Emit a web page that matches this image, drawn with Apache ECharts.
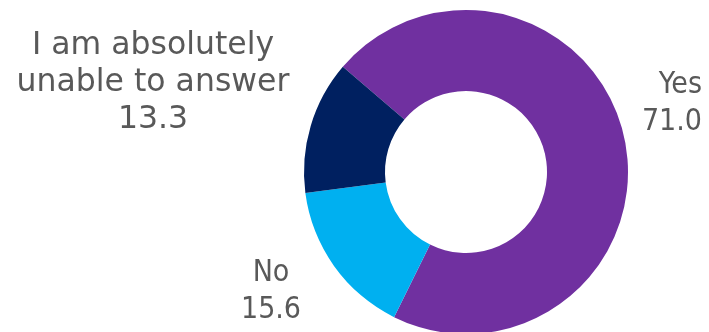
<!DOCTYPE html>
<html><head><meta charset="utf-8">
<script src="https://cdn.jsdelivr.net/npm/echarts@6/dist/echarts.min.js"></script>
<style>html,body{margin:0;padding:0;background:#fff}#c{width:709px;height:332px}</style>
</head><body><div id="c"></div>
<script>
const categories = ["Yes", "No", "I am absolutely\nunable to answer"];
const values = [71.0, 15.6, 13.3];
const colors = ["#7030A0", "#00B0F0", "#002060"];

const labelPos = [
  {x: 702, y: 104, align: 'right'},
  {x: 271, y: 292, align: 'center'},
  {x: 153, y: 83, align: 'center'}
];
const labelFonts = [
  {fontFamily: 'DejaVu Sans Condensed', fontSize: 30, lineHeight: 37},
  {fontFamily: 'DejaVu Sans Condensed', fontSize: 30, lineHeight: 37},
  {fontFamily: 'DejaVu Sans', fontSize: 31.5, lineHeight: 37}
];

const chart = echarts.init(document.getElementById('c'), null, {renderer: 'canvas'});
chart.setOption({
  animation: false,
  series: [{
    type: 'pie',
    center: [466, 172],
    radius: [81, 162],
    startAngle: 139.5,
    clockwise: true,
    avoidLabelOverlap: false,
    labelLine: {show: false},
    label: {
      show: true,
      color: '#595959',
      formatter: p => p.name + '\n' + p.value.toFixed(1)
    },
    labelLayout: p => ({
      x: labelPos[p.dataIndex].x,
      y: labelPos[p.dataIndex].y,
      align: labelPos[p.dataIndex].align,
      verticalAlign: 'middle'
    }),
    data: categories.map((c, i) => ({
      name: c,
      value: values[i],
      itemStyle: {color: colors[i]},
      label: Object.assign({align: labelPos[i].align}, labelFonts[i])
    }))
  }]
});
</script></body></html>
